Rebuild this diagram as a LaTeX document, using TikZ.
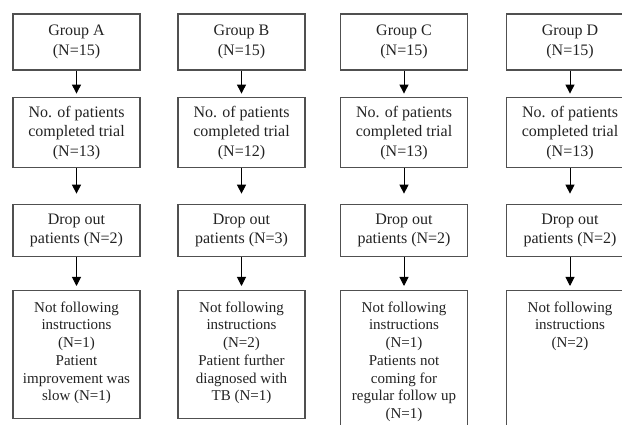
\documentclass[tikz,border=0pt]{standalone}
\usepackage{fontspec}
\setmainfont{Liberation Serif}
\usepackage{tikz}
\usetikzlibrary{arrows.meta}
\usepackage{xcolor}

\definecolor{borda}{HTML}{505050}
\definecolor{texto}{HTML}{222222}

\newcommand{\notopo}[1]{\begin{tabular}[t]{@{}c@{}}#1\end{tabular}} %texto preso no topo da caixa

\tikzset{
  caixa/.style={draw=borda, line width=1.2pt, text=texto, align=center, minimum width=127pt, inner sep=2pt, font=\fontsize{16}{19.5}\selectfont},
  caixafinal/.style={caixa, anchor=north, font=\fontsize{15}{17.7}\selectfont, inner ysep=9.7pt, text height=12pt},
  seta/.style={-{Triangle[width=9pt,length=9pt]}, line width=1pt, black}
}

\begin{document}
\begin{tikzpicture}[x=1pt,y=-1pt] %1 px da figura = 1 pt

\clip (0,0) rectangle (622,425); %tamanho da figura

%----------------------------------------------------
%Caixas dos grupos (linha 1)
%----------------------------------------------------
\node[caixa, minimum height=56pt] (A1) at (76.5,42) {Group A\\(N=15)};
\node[caixa, minimum height=56pt] (B1) at (241.5,42) {Group B\\(N=15)};
\node[caixa, minimum height=56pt] (C1) at (404,42) {Group C\\(N=15)};
\node[caixa, minimum height=56pt] (D1) at (570,42) {Group D\\(N=15)};

%----------------------------------------------------
%Pacientes que completaram (linha 2)
%----------------------------------------------------
\node[caixa, minimum height=70pt] (A2) at (76.5,132.7) {No. of patients\\completed trial\\(N=13)};
\node[caixa, minimum height=70pt] (B2) at (241.5,132.7) {No. of patients\\completed trial\\(N=12)};
\node[caixa, minimum height=70pt] (C2) at (404,132.7) {No. of patients\\completed trial\\(N=13)};
\node[caixa, minimum height=70pt] (D2) at (570,132.7) {No. of patients\\completed trial\\(N=13)};

%----------------------------------------------------
%Desistencias (linha 3)
%----------------------------------------------------
\node[caixa, minimum height=52.5pt] (A3) at (76.5,230.5) {Drop out\\patients (N=2)};
\node[caixa, minimum height=52.5pt] (B3) at (241.5,230.5) {Drop out\\patients (N=3)};
\node[caixa, minimum height=52.5pt] (C3) at (404,230.5) {Drop out\\patients (N=2)};
\node[caixa, minimum height=52.5pt] (D3) at (570,230.5) {Drop out\\patients (N=2)};

%----------------------------------------------------
%Motivos (linha 4), texto no topo da caixa
%----------------------------------------------------
\node[caixafinal, text depth=96.6pt] (A4) at (76.5,290) {\notopo{Not following\\instructions\\(N=1)\\Patient\\improvement was\\slow (N=1)}};
\node[caixafinal, text depth=96.6pt] (B4) at (241.5,290) {\notopo{Not following\\instructions\\(N=2)\\Patient further\\diagnosed with\\TB (N=1)}};
\node[caixafinal, text depth=140pt] (C4) at (404,290) {\notopo{Not following\\instructions\\(N=1)\\Patients not\\coming for\\regular follow up\\(N=1)}}; %caixa cortada embaixo
\node[caixafinal, text depth=140pt] (D4) at (570,290) {\notopo{Not following\\instructions\\(N=2)}};

%----------------------------------------------------
%Setas entre as caixas
%----------------------------------------------------
\foreach \g in {A,B,C,D}{
  \draw[seta, shorten >=3.5pt] (\g1.south) -- (\g2.north);
  \draw[seta, shorten >=10pt] (\g2.south) -- (\g3.north);
  \draw[seta, shorten >=4pt] (\g3.south) -- (\g4.north);
}

\end{tikzpicture}
\end{document}
